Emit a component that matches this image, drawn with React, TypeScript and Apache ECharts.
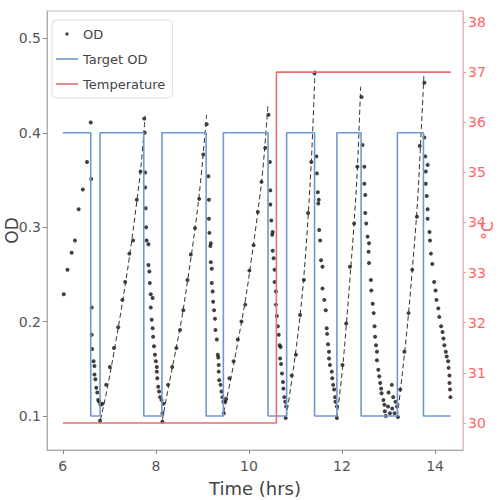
import React, { useEffect, useRef } from "react";
import * as echarts from "echarts";

// ---- Data ----
const xTicks = [6, 8, 10, 12, 14];
const odTicks = [0.1, 0.2, 0.3, 0.4, 0.5];
const tempTicks = [30, 31, 32, 33, 34, 35, 36, 37, 38];

// OD measurements (time in hrs, OD)
const odRise0 = [[6.02,0.229],[6.10,0.255],[6.19,0.273],[6.26,0.286],[6.34,0.319],[6.43,0.340],[6.52,0.369],[6.60,0.411]];
const odDil1 = [[6.61,0.351],[6.62,0.215],[6.62,0.186],[6.63,0.171],[6.66,0.158],[6.68,0.153],[6.68,0.144],[6.70,0.139],[6.72,0.130],[6.74,0.125],[6.76,0.117],[6.78,0.115],[6.81,0.112],[6.85,0.113],[6.80,0.095]];
const odGrow1 = [[6.93,0.133],[7.01,0.152],[7.10,0.172],[7.19,0.194],[7.28,0.223],[7.34,0.242],[7.43,0.272],[7.51,0.286],[7.59,0.329],[7.67,0.359],[7.75,0.415]];
const odDil2 = [[7.76,0.400],[7.77,0.358],[7.77,0.342],[7.78,0.320],[7.79,0.300],[7.80,0.286],[7.84,0.282],[7.84,0.260],[7.86,0.253],[7.87,0.241],[7.89,0.229],[7.93,0.225],[7.89,0.215],[7.91,0.202],[7.93,0.193],[7.94,0.184],[7.96,0.174],[7.98,0.165],[8.00,0.158],[8.02,0.152],[8.02,0.147],[8.03,0.140],[8.05,0.131],[8.07,0.126],[8.09,0.120],[8.12,0.117],[8.16,0.113],[8.14,0.103],[8.14,0.094]];
const odGrow2 = [[8.26,0.133],[8.35,0.152],[8.44,0.172],[8.52,0.191],[8.59,0.212],[8.68,0.244],[8.75,0.271],[8.84,0.299],[8.93,0.330],[9.02,0.377],[9.09,0.409]];
const odDil3 = [[9.13,0.354],[9.14,0.329],[9.14,0.309],[9.15,0.294],[9.18,0.283],[9.17,0.280],[9.18,0.263],[9.20,0.256],[9.20,0.241],[9.22,0.232],[9.23,0.221],[9.25,0.212],[9.27,0.203],[9.28,0.191],[9.31,0.181],[9.33,0.165],[9.34,0.162],[9.35,0.154],[9.35,0.147],[9.36,0.138],[9.39,0.133],[9.41,0.126],[9.43,0.120],[9.45,0.115],[9.46,0.103],[9.51,0.118],[9.49,0.115]];
const odGrow3 = [[9.58,0.140],[9.67,0.158],[9.76,0.181],[9.84,0.200],[9.92,0.218],[10.01,0.254],[10.10,0.281],[10.19,0.316],[10.27,0.348],[10.35,0.384],[10.42,0.419]];
const odDil4 = [[10.45,0.369],[10.46,0.339],[10.46,0.324],[10.48,0.307],[10.51,0.295],[10.50,0.292],[10.51,0.275],[10.53,0.267],[10.55,0.255],[10.55,0.242],[10.58,0.232],[10.58,0.218],[10.60,0.206],[10.62,0.195],[10.64,0.186],[10.66,0.175],[10.68,0.173],[10.67,0.161],[10.69,0.155],[10.71,0.145],[10.73,0.136],[10.74,0.129],[10.76,0.120],[10.78,0.115],[10.80,0.110],[10.79,0.098]];
const odGrow4 = [[10.92,0.143],[11.01,0.165],[11.10,0.207],[11.18,0.244],[11.27,0.315],[11.34,0.369],[11.41,0.463]];
const odDil5 = [[11.45,0.375],[11.46,0.357],[11.48,0.337],[11.50,0.329],[11.49,0.325],[11.51,0.297],[11.53,0.286],[11.55,0.265],[11.58,0.258],[11.58,0.235],[11.62,0.223],[11.65,0.212],[11.67,0.193],[11.68,0.187],[11.70,0.176],[11.72,0.168],[11.72,0.161],[11.74,0.154],[11.78,0.147],[11.79,0.140],[11.81,0.133],[11.83,0.128],[11.85,0.120],[11.86,0.115],[11.89,0.110],[11.89,0.098]];
const odGrow5 = [[12.01,0.154],[12.09,0.198],[12.17,0.258],[12.26,0.304],[12.33,0.364],[12.42,0.438]];
const odDil6 = [[12.44,0.387],[12.48,0.364],[12.48,0.346],[12.50,0.334],[12.50,0.315],[12.52,0.304],[12.55,0.290],[12.58,0.283],[12.57,0.274],[12.58,0.262],[12.62,0.244],[12.63,0.233],[12.66,0.219],[12.68,0.209],[12.70,0.195],[12.71,0.184],[12.73,0.175],[12.75,0.168],[12.75,0.159],[12.78,0.149],[12.80,0.142],[12.82,0.135],[12.84,0.129],[12.85,0.124],[12.89,0.117],[12.91,0.112],[12.92,0.105],[12.94,0.100],[12.99,0.110],[13.00,0.125],[13.03,0.103],[13.07,0.133],[13.08,0.108],[13.10,0.120],[13.13,0.103],[13.15,0.115],[13.18,0.110],[13.20,0.099]];
const odGrow6 = [[13.25,0.128],[13.34,0.168],[13.43,0.209],[13.51,0.255],[13.61,0.311],[13.67,0.386],[13.77,0.453]];
const odDil7 = [[13.77,0.395],[13.79,0.375],[13.84,0.366],[13.80,0.359],[13.80,0.346],[13.82,0.333],[13.84,0.319],[13.84,0.309],[13.88,0.295],[13.89,0.286],[13.91,0.272],[13.94,0.261],[13.98,0.242],[14.01,0.233],[14.03,0.223],[14.07,0.214],[14.09,0.205],[14.13,0.195],[14.16,0.189],[14.18,0.182],[14.20,0.175],[14.23,0.168],[14.25,0.163],[14.28,0.158],[14.29,0.151],[14.31,0.143],[14.31,0.135],[14.32,0.128],[14.33,0.120]];

// Dashed growth fits
const fit1 = [[6.81,0.096],[6.95,0.128],[7.10,0.168],[7.28,0.220],[7.43,0.268],[7.59,0.327],[7.68,0.365],[7.77,0.418]];
const fit2 = [[8.14,0.096],[8.26,0.128],[8.40,0.163],[8.55,0.202],[8.68,0.243],[8.84,0.298],[8.96,0.348],[9.09,0.419]];
const fit3 = [[9.46,0.104],[9.60,0.137],[9.76,0.178],[9.92,0.222],[10.05,0.265],[10.19,0.316],[10.30,0.362],[10.41,0.431]];
const fit4 = [[10.80,0.098],[10.92,0.138],[11.01,0.170],[11.10,0.207],[11.18,0.248],[11.27,0.310],[11.35,0.380],[11.42,0.467]];
const fit5 = [[11.89,0.098],[12.01,0.150],[12.09,0.195],[12.17,0.245],[12.26,0.305],[12.33,0.362],[12.40,0.449]];
const fit6 = [[13.19,0.100],[13.25,0.125],[13.34,0.165],[13.43,0.209],[13.51,0.255],[13.61,0.318],[13.68,0.380],[13.76,0.461]];

// Target OD (step changes)
const targetTimes = [6.0, 6.6, 6.8, 7.74, 8.13, 9.08, 9.45, 10.41, 10.81, 11.41, 11.89, 12.41, 13.19, 13.75, 14.34];
const targetValues = [0.4, 0.1, 0.4, 0.1, 0.4, 0.1, 0.4, 0.1, 0.4, 0.1, 0.4, 0.1, 0.4, 0.1, 0.1];

// Temperature (°C)
const tempTimes = [6.0, 10.59, 14.34];
const tempValues = [30, 37, 37];

const FONT = "'DejaVu Sans', sans-serif";
const BLUE = "#6f98cf";
const RED = "#e86f6f";

export default function App() {
  const ref = useRef<HTMLDivElement>(null);
  useEffect(() => {
    if (!ref.current) return;
    const chart = echarts.init(ref.current, null, { renderer: "svg" });
    const odData = [
      ...odRise0, ...odDil1, ...odGrow1, ...odDil2, ...odGrow2, ...odDil3, ...odGrow3,
      ...odDil4, ...odGrow4, ...odDil5, ...odGrow5, ...odDil6, ...odGrow6, ...odDil7,
    ];
    const fits = [fit1, fit2, fit3, fit4, fit5, fit6];
    const target = targetTimes.map((t, i) => [t, targetValues[i]]);
    const temp = tempTimes.map((t, i) => [t, tempValues[i]]);
    const dotIcon = "path://M0,0M22,14M11,5.3A1.7,1.7,0,1,1,11,8.7A1.7,1.7,0,1,1,11,5.3Z";
    const lineIcon = "path://M0,0M22,14M0,6.2L22,6.2L22,7.8L0,7.8Z";

    chart.setOption({
      animation: false,
      backgroundColor: "#ffffff",
      grid: {
        left: 47, top: 11, right: 37, bottom: 50,
        outerBoundsMode: "none", containLabel: false,
        show: true, borderColor: "#bdbdbd", borderWidth: 1,
      },
      legend: {
        left: 52, top: 20, orient: "vertical",
        backgroundColor: "rgba(255,255,255,0.9)",
        borderColor: "#dcdcdc", borderWidth: 1, borderRadius: 4,
        padding: [6, 7, 6, 4],
        itemWidth: 22, itemHeight: 14, itemGap: 9,
        textStyle: { fontSize: 13, color: "#444", fontFamily: FONT, lineHeight: 16 },
        data: [
          { name: "OD", icon: dotIcon },
          { name: "Target OD", icon: lineIcon },
          { name: "Temperature", icon: lineIcon },
        ],
      },
      xAxis: {
        type: "value", min: 5.66, max: 14.6,
        name: "Time (hrs)", nameLocation: "middle", nameGap: 29, nameMoveOverlap: false,
        nameTextStyle: { fontSize: 18, color: "#444", fontFamily: FONT },
        axisLine: { show: true, onZero: false, lineStyle: { color: "#aaaaaa" } },
        axisTick: { show: true, length: 4, customValues: xTicks, lineStyle: { color: "#888" } },
        axisLabel: { customValues: xTicks, color: "#555", fontSize: 14, fontFamily: FONT, margin: 9 },
        splitLine: { show: false },
      },
      yAxis: [
        {
          type: "value", min: 0.064, max: 0.529, position: "left",
          name: "OD", nameLocation: "middle", nameGap: 27, nameRotate: 90, nameMoveOverlap: false,
          nameTextStyle: { fontSize: 17, color: "#444", fontFamily: FONT },
          axisLine: { show: true, lineStyle: { color: "#aaaaaa" } },
          axisTick: { show: true, length: 4, customValues: odTicks, lineStyle: { color: "#888" } },
          axisLabel: {
            customValues: odTicks, color: "#555", fontSize: 14, fontFamily: FONT, margin: 6,
            formatter: (v: number) => v.toFixed(1),
          },
          splitLine: { show: false },
        },
        {
          type: "value", min: 29.46, max: 38.22, position: "right",
          name: "°C", nameLocation: "middle", nameGap: 16, nameRotate: 90, nameMoveOverlap: false,
          nameTextStyle: { fontSize: 16, color: "#ff6060", fontFamily: FONT },
          axisLine: { show: true, lineStyle: { color: "#f6b3b3" } },
          axisTick: { show: true, length: 3, customValues: tempTicks, lineStyle: { color: "#f29a9a" } },
          axisLabel: { customValues: tempTicks, color: "#ff6464", fontSize: 14, fontFamily: FONT, margin: 5 },
          splitLine: { show: false },
        },
      ],
      series: [
        {
          name: "OD", type: "scatter", data: odData, symbol: "circle", symbolSize: 4,
          itemStyle: { color: "#111111" }, z: 2,
        },
        ...fits.map((f, i) => ({
          name: "fit" + (i + 1), type: "line", data: f, smooth: 0.4, symbol: "none",
          showSymbol: false,
          lineStyle: { color: "#333333", width: 1, type: [5, 3] }, z: 3,
        })),
        {
          name: "Target OD", type: "line", data: target, step: "end", symbol: "none",
          showSymbol: false, itemStyle: { color: BLUE },
          lineStyle: { color: BLUE, width: 1.6 }, z: 4,
        },
        {
          name: "Temperature", type: "line", yAxisIndex: 1, data: temp, step: "end", symbol: "none",
          showSymbol: false, itemStyle: { color: RED },
          lineStyle: { color: RED, width: 1.6 }, z: 5,
        },
      ],
    });
    return () => chart.dispose();
  }, []);
  return (
    <div
      ref={ref}
      style={{ position: "absolute", left: 0, top: 0, width: 500, height: 500, background: "#fff" }}
    />
  );
}
